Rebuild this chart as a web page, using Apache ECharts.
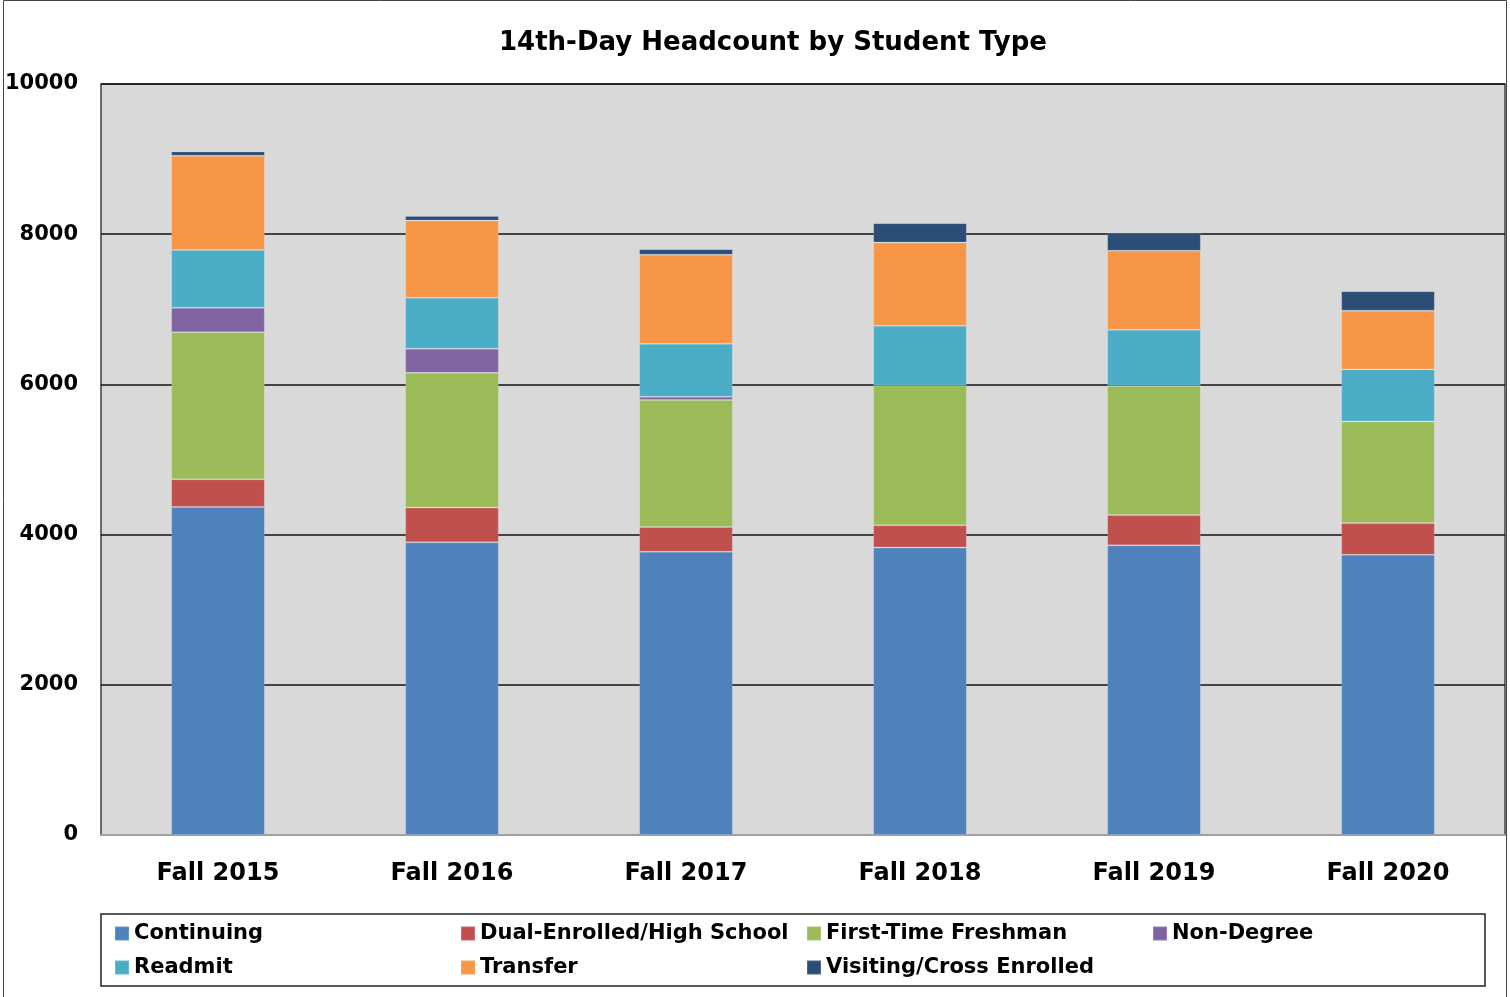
<!DOCTYPE html>
<html>
<head>
<meta charset="utf-8">
<script src="https://cdn.jsdelivr.net/npm/echarts@6/dist/echarts.min.js"></script>
<style>
  html, body { margin: 0; padding: 0; background: #fff; }
  #main { width: 1510px; height: 997px; }
</style>
</head>
<body>
<div id="main"></div>
<script>
var terms = ['Fall 2015', 'Fall 2016', 'Fall 2017', 'Fall 2018', 'Fall 2019', 'Fall 2020'];
var yTicks = [0, 2000, 4000, 6000, 8000, 10000];

var continuing = [4368, 3897, 3773, 3827, 3857, 3733];
var dualEnrolled = [369, 463, 328, 297, 404, 422];
var firstTime = [1956, 1795, 1690, 1863, 1720, 1352];
var nonDegree = [328, 320, 44, 0, 0, 0];
var readmit = [770, 680, 706, 794, 747, 693];
var transfer = [1253, 1026, 1187, 1107, 1053, 781];
var visiting = [57, 63, 72, 259, 240, 259];

var seriesNames = ['Continuing', 'Dual-Enrolled/High School', 'First-Time Freshman', 'Non-Degree',
                   'Readmit', 'Transfer', 'Visiting/Cross Enrolled'];
var seriesData = [continuing, dualEnrolled, firstTime, nonDegree, readmit, transfer, visiting];
var colors = ['#4f81bd', '#c0504d', '#9bbb59', '#8064a2', '#4bacc6', '#f79646', '#2c4d75'];

var font = '"DejaVu Sans", "Liberation Sans", sans-serif';

(function(){
  var myChart = echarts.init(document.getElementById('main'));
  var option = {
    color: colors,
    animation: false,
    title: {
      text: '14th-Day Headcount by Student Type',
      left: 499,
      top: 30,
      padding: 0,
      textStyle: { fontFamily: font, fontWeight: 'bold', fontSize: 26, color: '#000' }
    },
    graphic: [
      {
        type: 'rect',
        shape: { x: 3.5, y: 0.5, width: 1503, height: 1010 },
        style: { fill: null, stroke: '#444', lineWidth: 1 },
        silent: true
      }
    ],
    legend: {
      data: seriesNames,
      left: 101,
      top: 914,
      width: 1375,
      padding: [9, 0, 8, 13],
      itemGap: 13,
      itemWidth: 14,
      itemHeight: 14,
      icon: 'rect',
      borderColor: '#222',
      borderWidth: 1.5,
      textStyle: { fontFamily: font, fontWeight: 'bold', fontSize: 21, color: '#000', width: 313, lineHeight: 18 }
    },
    grid: {
      left: 101,
      right: 5,
      top: 84,
      bottom: 162,
      outerBoundsMode: 'none',
      show: true,
      backgroundColor: '#d9d9d9',
      borderColor: '#404040',
      borderWidth: 1.5
    },
    xAxis: {
      type: 'category',
      data: terms,
      axisLine: { show: true, lineStyle: { color: '#a0a0a0', width: 2 } },
      axisTick: { show: false },
      axisLabel: { margin: 27, fontFamily: font, fontWeight: 'bold', fontSize: 24, color: '#000' }
    },
    yAxis: {
      type: 'value',
      min: yTicks[0],
      max: yTicks[yTicks.length - 1],
      interval: yTicks[1] - yTicks[0],
      axisLine: { show: false },
      axisTick: { show: false },
      splitLine: { lineStyle: { color: '#111', width: 1.5 } },
      axisLabel: {
        margin: 23, fontFamily: font, fontWeight: 'bold', fontSize: 21, color: '#000',
        formatter: function (value) { return String(value); }
      }
    },
    series: seriesNames.map(function (name, i) {
      return {
        name: name,
        type: 'bar',
        stack: 'total',
        barWidth: '40%',
        itemStyle: { borderColor: 'rgba(255,255,255,0.15)', borderWidth: 1 },
        data: seriesData[i]
      };
    })
  };
  myChart.setOption(option);
  window.addEventListener('resize', function() {
    myChart.resize();
  });
})();
</script>
</body>
</html>
